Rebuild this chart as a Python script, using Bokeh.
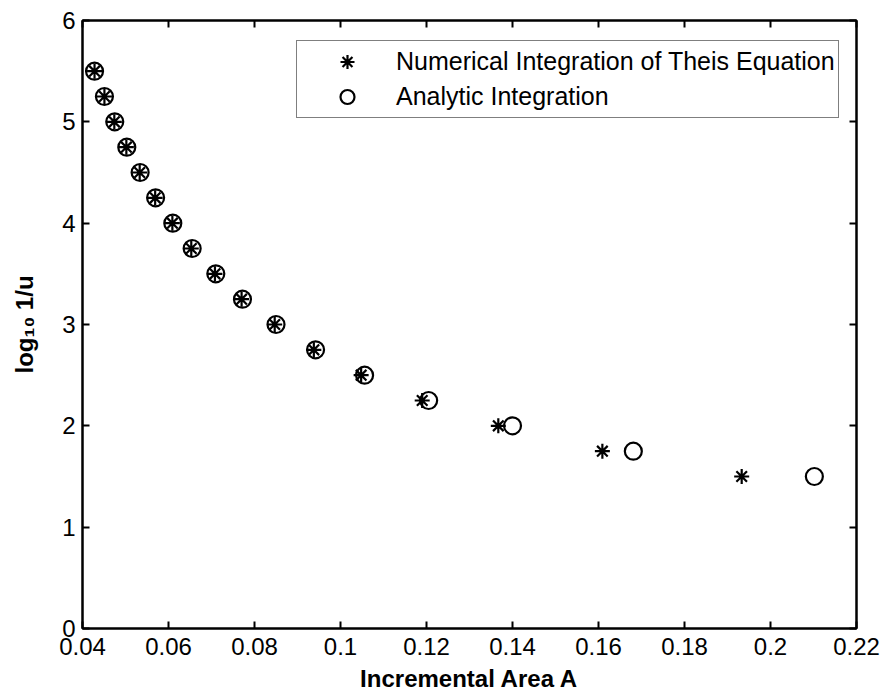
from bokeh.plotting import figure
from bokeh.models import Range1d, LinearAxis, FixedTicker, Legend, LegendItem
from bokeh.embed import file_html
from bokeh.resources import INLINE

# log10(1/u) levels
log_inv_u = [5.5, 5.25, 5.0, 4.75, 4.5, 4.25, 4.0, 3.75, 3.5, 3.25, 3.0,
             2.75, 2.5, 2.25, 2.0, 1.75, 1.5]
# Incremental area A, numerical integration of Theis equation
area_numerical = [0.0428, 0.0451, 0.0474, 0.0502, 0.0533, 0.0569, 0.0609,
                  0.0653, 0.0708, 0.0770, 0.0847, 0.0938, 0.1048, 0.1190,
                  0.1367, 0.1609, 0.1933]
# Incremental area A, analytic integration
area_analytic = [0.0428, 0.0451, 0.0475, 0.0503, 0.0534, 0.0570, 0.0610,
                 0.0655, 0.0710, 0.0772, 0.0850, 0.0942, 0.1056, 0.1205,
                 0.1400, 0.1681, 0.2102]

x_ticks = [0.04, 0.06, 0.08, 0.10, 0.12, 0.14, 0.16, 0.18, 0.20, 0.22]
x_tick_labels = ["0.04", "0.06", "0.08", "0.1", "0.12", "0.14", "0.16",
                 "0.18", "0.2", "0.22"]
y_ticks = [0, 1, 2, 3, 4, 5, 6]

FONT = "Liberation Sans"

p = figure(frame_width=774, frame_height=608,
           min_border_left=82, min_border_right=27,
           min_border_top=20, min_border_bottom=67,
           x_range=Range1d(0.04, 0.22), y_range=Range1d(0, 6),
           output_backend="svg", toolbar_location=None,
           background_fill_color="white", border_fill_color="white")

p.xgrid.visible = False
p.ygrid.visible = False
p.outline_line_color = "black"
p.outline_line_width = 2

xt = FixedTicker(ticks=x_ticks, minor_ticks=[])
yt = FixedTicker(ticks=y_ticks, minor_ticks=[])
overrides = {t: l for t, l in zip(x_ticks, x_tick_labels)}

def style_axis(ax, show_labels):
    ax.axis_line_color = "black"
    ax.axis_line_width = 2
    ax.major_tick_line_color = "black"
    ax.major_tick_line_width = 2
    ax.major_tick_in = 7
    ax.major_tick_out = 0
    ax.minor_tick_line_color = None
    ax.major_label_text_font = FONT
    if show_labels:
        ax.major_label_text_color = "black"
        ax.major_label_text_font_size = "24px"
    else:
        ax.major_label_text_color = None
        ax.major_label_text_font_size = "1px"
        ax.major_label_standoff = 0

xa = p.xaxis[0]
xa.ticker = xt
xa.major_label_overrides = overrides
style_axis(xa, True)
xa.major_label_standoff = 9
xa.axis_label = "Incremental Area A"
xa.axis_label_text_font = FONT
xa.axis_label_text_font_style = "bold"
xa.axis_label_text_font_size = "24px"
xa.axis_label_text_color = "black"
xa.axis_label_standoff = 7

ya = p.yaxis[0]
ya.ticker = yt
style_axis(ya, True)
ya.major_label_standoff = 7
ya.axis_label = "log\u2081\u2080 1/u"
ya.axis_label_text_font = FONT
ya.axis_label_text_font_style = "bold"
ya.axis_label_text_font_size = "24px"
ya.axis_label_text_color = "black"
ya.axis_label_standoff = 21

top_ax = LinearAxis(ticker=xt)
style_axis(top_ax, False)
p.add_layout(top_ax, "above")
right_ax = LinearAxis(ticker=yt)
style_axis(right_ax, False)
p.add_layout(right_ax, "right")

r_num = p.scatter(area_numerical, log_inv_u, marker="asterisk", size=15,
                  line_color="black", line_width=2.2)
r_ana = p.scatter(area_analytic, log_inv_u, marker="circle", size=17,
                  line_color="black", line_width=2.2, fill_color=None)

legend = Legend(items=[
    LegendItem(label="Numerical Integration of Theis Equation", renderers=[r_num]),
    LegendItem(label="Analytic Integration", renderers=[r_ana]),
], location=(214, 510))
legend.border_line_color = "black"
legend.border_line_width = 1
legend.background_fill_color = "white"
legend.background_fill_alpha = 1
legend.padding = 3
legend.spacing = 0
legend.margin = 0
legend.glyph_height = 35
legend.glyph_width = 94
legend.label_standoff = 2
legend.label_text_font = FONT
legend.label_text_font_size = "25px"
legend.label_text_color = "black"
legend.label_height = 35
p.add_layout(legend, "center")

open("out.html", "w").write(file_html(p, INLINE))
